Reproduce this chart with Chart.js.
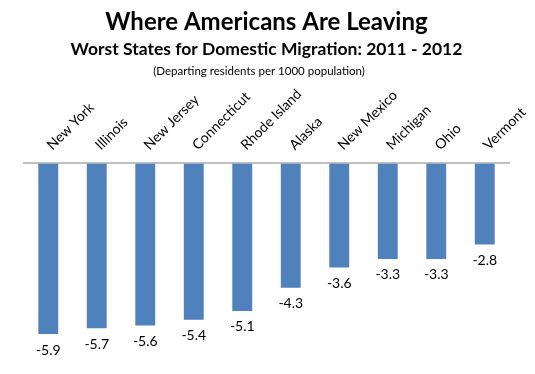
<!DOCTYPE html>
<html><head><meta charset="utf-8">
<script src="https://cdn.jsdelivr.net/npm/chart.js@4/dist/chart.umd.min.js"></script>
<style>html,body{margin:0;padding:0;background:#fff;}#wrap{position:relative;width:535px;height:374px;}</style>
</head><body><div id="wrap"><canvas id="c" width="535" height="374"></canvas></div>
<script>
const states = ["New York","Illinois","New Jersey","Connecticut","Rhode Island","Alaska","New Mexico","Michigan","Ohio","Vermont"];
const migration = [-5.9,-5.7,-5.6,-5.4,-5.1,-4.3,-3.6,-3.3,-3.3,-2.8];
const titleText = "Where Americans Are Leaving";
const subtitleText = "Worst States for Domestic Migration: 2011 - 2012";
const noteText = "(Departing residents per 1000 population)";
const FONT = "Lato, 'Open Sans', sans-serif";

const valueLabels = {
  id: 'valueLabels',
  afterDatasetsDraw(chart) {
    const ctx = chart.ctx;
    const meta = chart.getDatasetMeta(0);
    ctx.save();
    ctx.font = "14px " + FONT;
    ctx.fillStyle = "#000";
    ctx.textAlign = "center";
    ctx.textBaseline = "middle";
    meta.data.forEach((bar, i) => {
      ctx.fillText(migration[i].toFixed(1), bar.x, bar.y + 16);
    });
    ctx.restore();
  }
};
const noteLine = {
  id: 'noteLine',
  afterDraw(chart) {
    const ctx = chart.ctx;
    ctx.save();
    ctx.font = "11.5px " + FONT;
    ctx.fillStyle = "#000";
    ctx.textAlign = "center";
    ctx.textBaseline = "middle";
    ctx.fillText(noteText, 259, 71);
    ctx.restore();
  }
};

new Chart(document.getElementById('c'), {
  type: 'bar',
  data: { labels: states, datasets: [{ data: migration, backgroundColor: '#4f81bd', barPercentage: 0.41, categoryPercentage: 1 }] },
  options: {
    responsive: false, animation: false,
    layout: { padding: { left: 24, right: 26, top: 0, bottom: 11 } },
    plugins: {
      legend: { display: false }, tooltip: { enabled: false },
      title: { display: true, text: titleText, color: '#000', font: { family: FONT, size: 24, weight: 'bold' }, padding: { top: 8, bottom: 2 } },
      subtitle: { display: true, text: subtitleText, color: '#000', font: { family: FONT, size: 17.5, weight: 'bold' }, padding: { top: 0, bottom: 16 } }
    },
    scales: {
      x: { position: 'top', grid: { display: false, drawTicks: false }, border: { color: '#bfbfbf', width: 2 },
           ticks: { color: '#000', font: { family: FONT, size: 14 }, minRotation: 45, maxRotation: 45, padding: 10, labelOffset: 13 } },
      y: { min: -6.9, max: 0, display: false }
    }
  },
  plugins: [valueLabels, noteLine]
});
</script></body></html>
